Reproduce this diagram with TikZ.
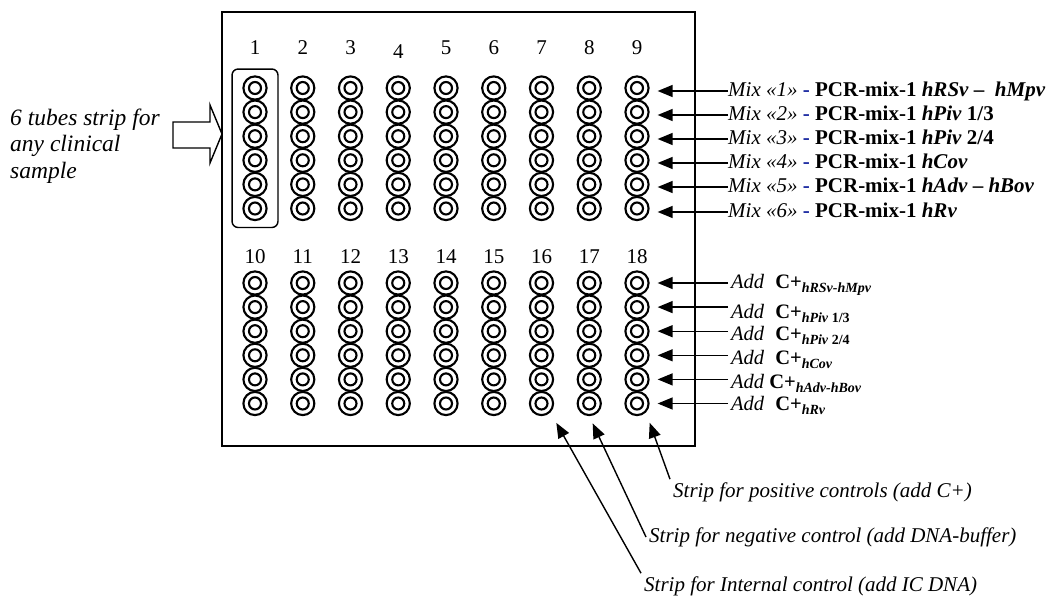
\documentclass[tikz,border=0pt]{standalone}
\usepackage{fontspec}
\setmainfont{Liberation Serif}
\usetikzlibrary{arrows.meta,fit}
\definecolor{dashblue}{RGB}{25,40,160}
% italic mix number in front of the bold mix description
\newcommand\mixname[1]{{\mdseries\itshape #1}}
% lowered bold-italic index after C+
\newcommand\ctlsub[1]{\raisebox{-4.5pt}{\fontsize{14}{16}\selectfont\bfseries\itshape #1}}

\begin{document}
\begin{tikzpicture}[x=1pt,y=-1pt,
  tube/.style={circle,draw,line width=2.1pt,minimum size=23.2pt,inner sep=0pt,
    path picture={\draw[line width=2.1pt] (path picture bounding box.center) circle (6pt);}},
  colnum/.style={font=\fontsize{21}{25}\selectfont,inner sep=0pt},
  pointer/.style={line width=1.4pt,-{Triangle[length=15pt,width=12pt]}},
  mixlabel/.style={anchor=west,inner sep=0pt,text height=14pt,text depth=4pt,
    font=\fontsize{21}{25}\selectfont\bfseries},
  addlabel/.style={anchor=west,inner sep=0pt,text height=14pt,text depth=6pt,
    font=\fontsize{20.5}{24}\selectfont},
  striplabel/.style={anchor=west,inner sep=3pt,font=\fontsize{21}{25}\selectfont\itshape}]

\useasboundingbox (0,0) rectangle (1050,597);

% plate outline
\draw[line width=1.8pt] (222,12) rectangle (695,446);

% two blocks of 9 strips x 6 tubes
\foreach \c in {1,...,9}{
  \foreach \r in {1,...,6}{
    \node[tube] (a-\c-\r) at ({255+47.75*(\c-1)},{88+24.1*(\r-1)}) {};
    \node[tube] (b-\c-\r) at ({255+47.75*(\c-1)},{283+24.1*(\r-1)}) {};
  }
}

% strip numbers
\foreach \c in {1,2,3,5,6,7,8,9}
  \node[colnum] (n\c) at ({255+47.75*(\c-1)},48) {\c};
\node[colnum] (n4) at ({255+47.75*3},52) {4};
\foreach \c [evaluate=\c as \k using int(\c+9)] in {1,...,9}
  \node[colnum] (n\k) at ({255+47.75*(\c-1)},257) {\k};

% sample strip frame
\node[draw,line width=1.4pt,rounded corners=6pt,inner xsep=10.3pt,inner ysep=6.3pt,
  fit=(a-1-1)(a-1-6)] (strip) {};

% block arrow pointing at the sample strip
\draw[line width=1.4pt] (173,122) -- (210,122) -- (210,105) -- (222,134)
  -- (210,163) -- (210,148) -- (173,148) -- cycle;
\node[anchor=west,align=left,inner sep=0pt,font=\fontsize{23.5}{26.5}\selectfont\itshape]
  (sample) at (10,146) {6 tubes strip for\\any clinical\\sample};

% mixes for the upper block
\node[mixlabel] (m1) at (728,91)
  {\mixname{Mix «1»} \textcolor{dashblue}{-} PCR-mix-1 \textit{hRSv} – \ \textit{hMpv}};
\node[mixlabel] (m2) at (728,115)
  {\mixname{Mix «2»} \textcolor{dashblue}{-} PCR-mix-1 \textit{hPiv} 1/3};
\node[mixlabel] (m3) at (728,139)
  {\mixname{Mix «3»} \textcolor{dashblue}{-} PCR-mix-1 \textit{hPiv} 2/4};
\node[mixlabel] (m4) at (728,163)
  {\mixname{Mix «4»} \textcolor{dashblue}{-} PCR-mix-1 \textit{hCov}};
\node[mixlabel] (m5) at (728,187)
  {\mixname{Mix «5»} \textcolor{dashblue}{-} PCR-mix-1 \textit{hAdv} – \textit{hBov}};
\node[mixlabel] (m6) at (728,212)
  {\mixname{Mix «6»} \textcolor{dashblue}{-} PCR-mix-1 \textit{hRv}};
\foreach \r in {1,...,6}
  \draw[pointer,shorten >=8pt] (m\r.west) -- (m\r.west -| a-9-\r.east);

% positive controls for the lower block
\node[addlabel] (c1) at (731,284)
  {\textit{Add}\hspace{11pt}\textbf{C+}\ctlsub{hRSv-hMpv}};
\node[addlabel] (c2) at (731,314)
  {\textit{Add}\hspace{11pt}\textbf{C+}\ctlsub{hPiv \textup{1/3}}};
\node[addlabel] (c3) at (731,336)
  {\textit{Add}\hspace{11pt}\textbf{C+}\ctlsub{hPiv \textup{2/4}}};
\node[addlabel] (c4) at (731,360)
  {\textit{Add}\hspace{11pt}\textbf{C+}\ctlsub{hCov}};
\node[addlabel] (c5) at (731,384)
  {\textit{Add}\hspace{5pt}\textbf{C+}\ctlsub{hAdv-hBov}};
\node[addlabel] (c6) at (731,406)
  {\textit{Add}\hspace{11pt}\textbf{C+}\ctlsub{hRv}};
\foreach \r in {1,...,6}
  \draw[pointer,shorten >=8pt] ([xshift=-3pt]c\r.west |- b-9-\r) -- (b-9-\r.east);

% control strips
\node[striplabel] (pos) at (670,492) {Strip for positive controls (add C+)};
\node[striplabel] (neg) at (646,537) {Strip for negative control (add DNA-buffer)};
\node[striplabel] (ic) at (641,586) {Strip for Internal control (add IC DNA)};
\draw[pointer,shorten >=11pt] (pos.north west) -- (b-9-6.south east);
\draw[pointer,shorten >=8pt] (neg.west) -- (b-8-6.south);
\draw[pointer,shorten >=12pt] (ic.north west) -- (b-7-6.south east);
\end{tikzpicture}
\end{document}
